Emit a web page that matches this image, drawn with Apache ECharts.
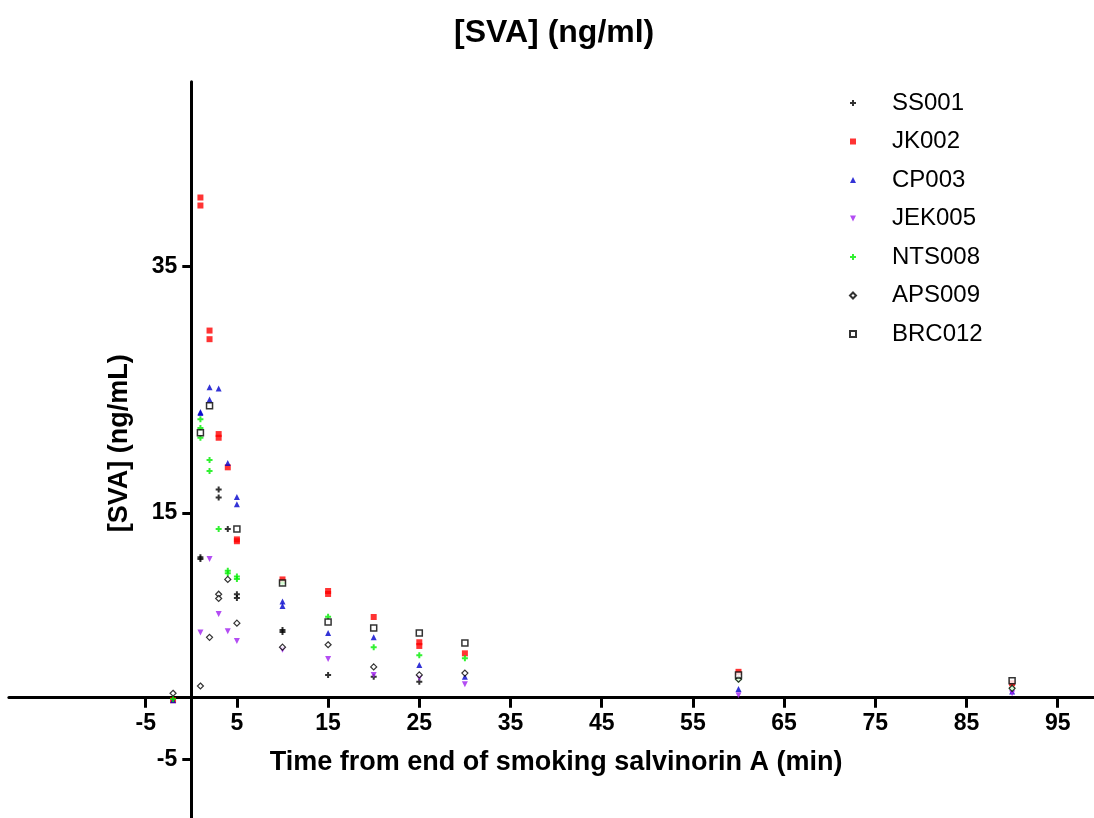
<!DOCTYPE html>
<html>
<head>
<meta charset="utf-8">
<script src="https://cdn.jsdelivr.net/npm/echarts@6/dist/echarts.min.js"></script>
<style>
html,body{margin:0;padding:0;background:#fff;}
#chart{width:1094px;height:818px;}
</style>
</head>
<body>
<div id="chart"></div>
<script>
// ---- data: [time (min), [SVA] (ng/mL)] ----
const seriesNames = ['SS001','JK002','CP003','JEK005','NTS008','APS009','BRC012'];
const xTickValues = [-5,5,15,25,35,45,55,65,75,85,95];
const yTickValues = [-5,15,35];

const SS001 = [[1,11.4],[1,11.25],[3,16.9],[3,16.25],[4,13.7],[5,8.4],[5,8.1],[10,5.5],[10,5.33],[15,1.85],[20,1.7],[25,1.3]];
const JK002 = [[-2,-0.2],[1,40.6],[1,39.95],[2,29.8],[2,29.1],[3,21.4],[3,21.1],[4,18.7],[5,12.85],[5,12.7],[10,9.6],[15,8.66],[15,8.42],[20,6.55],[25,4.5],[25,4.2],[30,3.6],[60,2.1],[90,1.17]];
const CP003 = [[-2,-0.2],[1,23.2],[1,23.1],[2,25.2],[2,24.2],[3,25.1],[4,19.05],[5,16.3],[5,15.7],[10,7.8],[10,7.45],[15,5.25],[20,4.9],[25,2.65],[30,1.7],[60,0.7],[90,0.5]];
const JEK005 = [[1,5.3],[2,11.25],[3,6.8],[4,5.4],[5,4.6],[10,3.9],[15,3.15],[20,1.85],[25,1.6],[30,1.1],[60,0.2],[90,0.36]];
const NTS008 = [[-2,-0.1],[1,22.6],[1,21.9],[1,21.1],[2,19.3],[2,18.4],[3,13.7],[4,10.3],[4,10.1],[5,9.84],[5,9.63],[10,9.3],[15,6.57],[20,4.1],[25,3.45],[30,3.2],[60,1.5],[90,0.76]];
const APS009 = [[-2,0.36],[1,0.95],[2,4.9],[3,8.4],[3,8.05],[4,9.6],[5,6.05],[10,4.1],[15,4.3],[20,2.5],[25,1.85],[30,2.0],[60,1.5],[90,0.76]];
const BRC012 = [[1,21.5],[2,23.7],[5,13.7],[10,9.3],[15,6.15],[20,5.65],[25,5.25],[30,4.45],[60,1.85],[90,1.38]];

const seriesData = [SS001, JK002, CP003, JEK005, NTS008, APS009, BRC012];

const PLUS = 'path://M2,0H4V2H6V4H4V6H2V4H0V2H2Z';
const DOWN = 'path://M0,0H6L3,6Z';
const styles = [
  {symbol: PLUS, size: 6, itemStyle: {color: '#000000'}},
  {symbol: 'rect', size: 6, itemStyle: {color: '#ff0000'}},
  {symbol: 'triangle', size: 6, itemStyle: {color: '#0000cc'}},
  {symbol: DOWN, size: 6, itemStyle: {color: '#a020f0'}},
  {symbol: PLUS, size: 6, itemStyle: {color: '#00ee00'}},
  {symbol: 'diamond', size: 6, itemStyle: {color: '#ffffff', borderColor: '#000000', borderWidth: 1.2}},
  {symbol: 'rect', size: 6, itemStyle: {color: '#ffffff', borderColor: '#000000', borderWidth: 1.5}}
];

const FONT = 'Liberation Sans, Arial, sans-serif';
const chart = echarts.init(document.getElementById('chart'), null, {renderer: 'canvas'});

const series = seriesNames.map((name, i) => ({
  name: name,
  type: 'scatter',
  data: seriesData[i],
  symbol: styles[i].symbol,
  symbolSize: styles[i].size,
  itemStyle: styles[i].itemStyle,
  z: 3 + i,
  emphasis: {disabled: true},
  animation: false
}));

chart.setOption({
  animation: false,
  backgroundColor: '#ffffff',
  title: {
    text: '[SVA] (ng/ml)',
    left: 449,
    top: 12,
    textStyle: {fontFamily: FONT, fontSize: 32, fontWeight: 'bold', color: '#000'}
  },
  legend: {
    orient: 'vertical',
    left: 844,
    top: 86,
    itemWidth: 6,
    itemHeight: 6,
    itemGap: 14.5,
    selectedMode: false,
    textStyle: {fontFamily: FONT, fontSize: 24, color: '#000', lineHeight: 24, padding: [0, 0, 0, 31]},
    data: seriesNames
  },
  grid: {left: 8.9, right: -9.3, top: 81.7, bottom: -2.9, containLabel: false, outerBoundsMode: 'none'},
  xAxis: {
    type: 'value',
    min: -20,
    max: 100,
    position: 'bottom',
    offset: -123.2,
    name: 'Time from end of smoking salvinorin A (min)',
    nameLocation: 'middle',
    nameGap: 51,
    nameTextStyle: {fontFamily: FONT, fontSize: 27, fontWeight: 'bold', color: '#000'},
    axisLine: {onZero: false, lineStyle: {color: '#000', width: 3}},
    axisTick: {show: true, inside: false, length: 10, lineStyle: {color: '#000', width: 3}, customValues: xTickValues},
    axisLabel: {fontFamily: FONT, fontSize: 23, fontWeight: 'bold', color: '#000', margin: 14, customValues: xTickValues},
    splitLine: {show: false}
  },
  yAxis: {
    type: 'value',
    min: -10,
    max: 50,
    position: 'left',
    offset: -182.4,
    name: '[SVA] (ng/mL)',
    nameLocation: 'middle',
    nameGap: 58,
    nameTextStyle: {fontFamily: FONT, fontSize: 27, fontWeight: 'bold', color: '#000', padding: [0, 0, 0, 16]},
    axisLine: {onZero: false, lineStyle: {color: '#000', width: 3}},
    axisTick: {show: true, inside: false, length: 9, lineStyle: {color: '#000', width: 3}, customValues: yTickValues},
    axisLabel: {fontFamily: FONT, fontSize: 23, fontWeight: 'bold', color: '#000', margin: 14, customValues: yTickValues},
    splitLine: {show: false}
  },
  series: series
});
</script>
</body>
</html>
